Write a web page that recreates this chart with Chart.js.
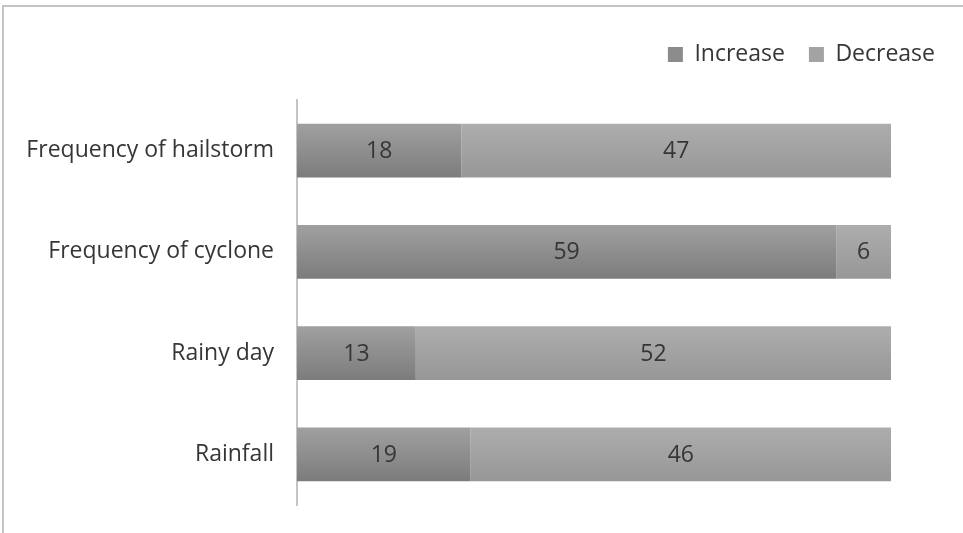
<!DOCTYPE html>
<html>
<head>
<meta charset="utf-8">
<script src="https://cdn.jsdelivr.net/npm/chart.js@4"></script>
<style>
  html, body { margin: 0; padding: 0; background: #fff; }
  #wrap { position: relative; width: 963px; height: 533px; overflow: hidden; }
  #frame {
    position: absolute; left: 2px; top: 5px; right: -10px; bottom: -10px;
    border-top: 2px solid #c4c4c4; border-left: 2px solid #c4c4c4;
    pointer-events: none;
  }
  canvas { position: absolute; left: 0; top: 0; }
</style>
</head>
<body>
<div id="wrap">
  <canvas id="changeChart" width="963" height="533"></canvas>
  <div id="frame"></div>
</div>
<script>
// Perceived change in weather parameters
const categories = ["Frequency of hailstorm", "Frequency of cyclone", "Rainy day", "Rainfall"];
const increaseValues = [18, 59, 13, 19];
const decreaseValues = [47, 6, 52, 46];

const FONT = "'Open Sans', sans-serif";
const FONT_SIZE = 23;
const TEXT = "#363636";
const BAR_PCT = 0.53;

// vertical shading across each bar, like the old office chart style
function barFill(top, bottom) {
  return (ctx) => {
    const chart = ctx.chart;
    const y = chart.scales && chart.scales.y;
    if (!y || ctx.dataIndex === undefined || !y.height) return bottom;
    const c = y.getPixelForValue(ctx.dataIndex);
    const half = (y.height / categories.length) * BAR_PCT / 2;
    const g = chart.ctx.createLinearGradient(0, c - half, 0, c + half);
    g.addColorStop(0, top);
    g.addColorStop(1, bottom);
    return g;
  };
}

// numbers in the middle of each segment
const segmentLabels = {
  id: "segmentLabels",
  afterDatasetsDraw(chart) {
    const ctx = chart.ctx;
    ctx.save();
    ctx.font = FONT_SIZE + "px " + FONT;
    ctx.fillStyle = TEXT;
    ctx.textAlign = "center";
    ctx.textBaseline = "middle";
    chart.data.datasets.forEach((ds, i) => {
      chart.getDatasetMeta(i).data.forEach((bar, j) => {
        const p = bar.getCenterPoint();
        ctx.fillText(String(ds.data[j]), p.x, p.y + 1);
      });
    });
    ctx.restore();
  }
};

// extra room between the legend and the bars
const legendGap = {
  id: "legendGap",
  beforeInit(chart) {
    const fit = chart.legend.fit;
    chart.legend.fit = function () {
      fit.bind(chart.legend)();
      this.height += 24;
    };
  }
};

const swatches = ["#8c8c8c", "#a3a3a3"];

new Chart(document.getElementById("changeChart"), {
  type: "bar",
  data: {
    labels: categories,
    datasets: [
      {
        label: "Increase",
        data: increaseValues,
        backgroundColor: barFill("#a0a0a0", "#7c7c7c"),
        borderWidth: 0,
        yAxisID: "y"
      },
      {
        label: "Decrease",
        data: decreaseValues,
        backgroundColor: barFill("#adadad", "#979797"),
        borderWidth: 0,
        yAxisID: "y"
      }
    ]
  },
  options: {
    indexAxis: "y",
    responsive: false,
    animation: false,
    layout: { padding: { top: 19, right: 4, bottom: 28, left: 0 } },
    datasets: { bar: { categoryPercentage: 1, barPercentage: BAR_PCT } },
    scales: {
      x: { stacked: true, min: 0, max: 65, display: false },
      y: {
        stacked: true,
        grid: { display: false, drawTicks: false },
        border: { display: true, color: "#c4c4c4", width: 2 },
        ticks: { color: TEXT, font: { family: FONT, size: FONT_SIZE }, padding: 23 },
        afterFit(s) {
          s.width = 297;
          s.paddingTop = 0;
          s.paddingBottom = 0;
        }
      },
      yPad: {
        type: "category",
        position: "right",
        grid: { display: false, drawTicks: false },
        border: { display: false },
        ticks: { display: false },
        afterFit(s) { s.width = 68; }
      }
    },
    plugins: {
      tooltip: { enabled: false },
      legend: {
        position: "top",
        align: "end",
        labels: {
          color: TEXT,
          font: { family: FONT, size: FONT_SIZE },
          boxWidth: 15,
          boxHeight: 15,
          padding: 24,
          generateLabels(chart) {
            return Chart.defaults.plugins.legend.labels.generateLabels(chart).map((item, i) => {
              item.fillStyle = swatches[i];
              item.strokeStyle = swatches[i];
              item.lineWidth = 0;
              return item;
            });
          }
        }
      }
    }
  },
  plugins: [segmentLabels, legendGap]
});
</script>
</body>
</html>
